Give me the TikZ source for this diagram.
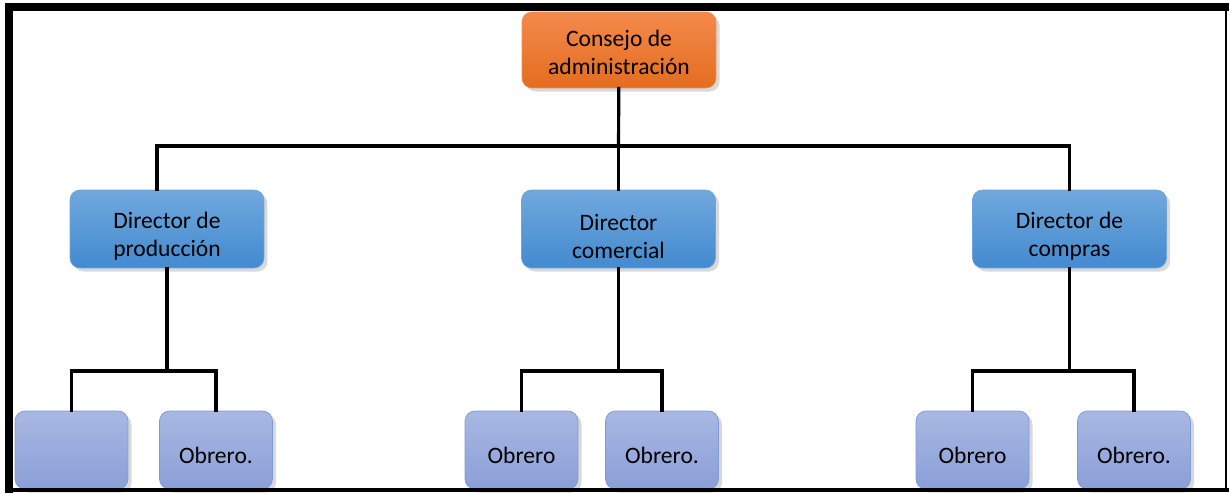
\documentclass[tikz,border=0pt]{standalone}
\usepackage{fontspec}
\setmainfont{Carlito}
\usetikzlibrary{shadows}
\definecolor{naranja}{HTML}{E46C1E}
\definecolor{naranjaclaro}{HTML}{F38A4C}
\definecolor{azul}{HTML}{438AD0}
\definecolor{azulclaro}{HTML}{70A8DC}
\definecolor{lila}{HTML}{8A9FD8}
\definecolor{lilaclaro}{HTML}{A9B8E2}
\newcommand\bajar[1]{\rule{0pt}{#1}}
\tikzset{
  caja/.style={rounded corners=0.2cm, align=center, minimum width=3.88cm,
    minimum height=1.56cm, drop shadow={shadow xshift=2pt, shadow yshift=-2pt, opacity=0.3}},
  jefe/.style={caja, draw=naranjaclaro, top color=naranjaclaro, bottom color=naranja, minimum height=1.52cm},
  director/.style={caja, draw=azulclaro!90!azul, top color=azulclaro, bottom color=azul},
  obrero/.style={caja, draw=lila!80!azul, top color=lilaclaro, bottom color=lila, minimum width=2.26cm},
  linea/.style={line width=1.8pt, line cap=rect}
}
\begin{document}
\begin{tikzpicture}[x=0.02cm, y=-0.02cm, font=\fontsize{13.4}{16}\selectfont]
      \useasboundingbox (0,0) rectangle (1229,493);
      \draw
        (619, 50) node[jefe] (cons){\bajar{0.41cm}Consejo de\\administración}
        (167, 229) node[director] (dprod){\bajar{0.61cm}Director de\\producción}
        (618.5, 229) node[director] (dcom){\bajar{0.61cm}Director\\comercial}
        (1069.5, 229) node[director] (dcomp){\bajar{0.61cm}Director de\\compras}
        (71.5, 450) node[obrero] (o1){}
        (216, 450) node[obrero] (o2){\bajar{0.53cm}Obrero.}
        (521.5, 450) node[obrero] (o3){\bajar{0.53cm}Obrero}
        (662, 450) node[obrero] (o4){\bajar{0.53cm}Obrero.}
        (972.5, 450) node[obrero] (o5){\bajar{0.53cm}Obrero}
        (1134, 450) node[obrero] (o6){\bajar{0.53cm}Obrero.};
      \coordinate (j0) at (618.5, 146);
      \coordinate (j1) at (167, 371);
      \coordinate (j2) at (618.5, 371);
      \coordinate (j3) at (1069.5, 371);
      \begin{scope}[linea]
        \draw (cons) -- (j0);
        \draw ([xshift=-0.2cm]dprod.north) |- (j0) -| (dcomp.north);
        \draw (j0) -- (dcom);
        \draw (dprod) -- (j1);
        \draw (o1.north) |- (j1) -| (o2.north);
        \draw (dcom) -- (j2);
        \draw (o3.north) |- (j2) -| (o4.north);
        \draw (dcomp) -- (j3);
        \draw (o5.north) |- (j3) -| (o6.north);
      \end{scope}
      % marco
      \draw[line width=0.16cm] (5, 7) -- (1229, 7);
      \draw[line width=0.16cm] (9, 3) -- (9, 493);
      \draw[line width=0.08cm] (9, 490) -- (1229, 490);
      \draw[line width=0.05cm] (1226, 7) -- (1226, 490);
    \end{tikzpicture}
\end{document}
